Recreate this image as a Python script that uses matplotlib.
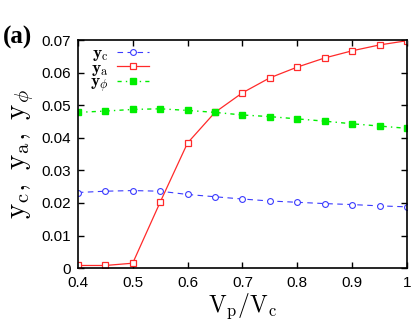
import matplotlib
matplotlib.use("Agg")
import matplotlib.pyplot as plt

x = [0.40, 0.45, 0.50, 0.55, 0.60, 0.65, 0.70, 0.75, 0.80, 0.85, 0.90, 0.95, 1.00]
yc = [0.0232, 0.0236, 0.0238, 0.0236, 0.0226, 0.0219, 0.0212, 0.0206, 0.0202, 0.0198, 0.0195, 0.0191, 0.0188]
ya = [0.0008, 0.0008, 0.0015, 0.0202, 0.0384, 0.0478, 0.0538, 0.0584, 0.0617, 0.0645, 0.0667, 0.0685, 0.0698]
yphi = [0.0478, 0.0482, 0.0487, 0.0489, 0.0484, 0.0478, 0.0470, 0.0465, 0.0458, 0.0451, 0.0443, 0.0436, 0.0429]
xticks = [0.4, 0.5, 0.6, 0.7, 0.8, 0.9, 1.0]
xticklabels = ["0.4", "0.5", "0.6", "0.7", "0.8", "0.9", "1"]
yticks = [0, 0.01, 0.02, 0.03, 0.04, 0.05, 0.06, 0.07]
yticklabels = ["0", "0.01", "0.02", "0.03", "0.04", "0.05", "0.06", "0.07"]

plt.rcParams['mathtext.fontset'] = 'cm'
plt.rcParams['font.family'] = ['Liberation Sans', 'DejaVu Sans']

fig = plt.figure(figsize=(4.14, 3.23), dpi=100)
ax = fig.add_axes([0.188, 0.170, 0.795, 0.706])

ax.plot(x, yc, color='#3b3bff', linestyle=(0, (5, 4)), linewidth=0.8, marker='o',
        markersize=4.2, markerfacecolor='white', markeredgecolor='#3b3bff', markeredgewidth=0.8,
        label=r'$\mathbf{y}_{\mathrm{c}}$')
ax.plot(x, ya, color='#ff2a2a', linestyle='-', linewidth=0.9, marker='s',
        markersize=4.5, markerfacecolor='white', markeredgecolor='#ff2a2a', markeredgewidth=0.9,
        label=r'$\mathbf{y}_{\mathrm{a}}$')
ax.plot(x, yphi, color='#00ee00', linestyle=(0, (3, 3, 1, 3)), linewidth=1.0, marker='s',
        markersize=4.5, markerfacecolor='#00ee00', markeredgecolor='#00ee00',
        label=r'$\mathbf{y}_{\phi}$')

ax.set_xlim(0.4, 1.0)
ax.set_ylim(0, 0.07)
ax.set_xticks(xticks)
ax.set_xticklabels(xticklabels)
ax.set_yticks(yticks)
ax.set_yticklabels(yticklabels)
ax.tick_params(direction='in', top=True, right=True, labelsize=11, length=4.5, width=1)
ax.tick_params(axis='x', pad=6)
ax.tick_params(axis='y', pad=5)
for s in ax.spines.values():
    s.set_linewidth(1.2)

ax.set_xlabel(r'$\mathrm{V_p/V_c}$', fontsize=17, labelpad=1)
ax.set_ylabel(r'$\mathrm{y}_{\mathrm{c}},\ \mathrm{y}_{\mathrm{a}},\ \mathrm{y}_{\phi}$', fontsize=21, labelpad=4)

leg = ax.legend(loc='upper left', frameon=False, markerfirst=False, fontsize=12.5,
                handlelength=1.8, handletextpad=0.5, labelspacing=-0.15, numpoints=1,
                bbox_to_anchor=(0.015, 1.005), borderaxespad=0.0)

fig.text(0.008, 0.865, '(a)', fontsize=18, fontweight='bold', family='Liberation Serif')

fig.savefig('out.png', dpi=100)
